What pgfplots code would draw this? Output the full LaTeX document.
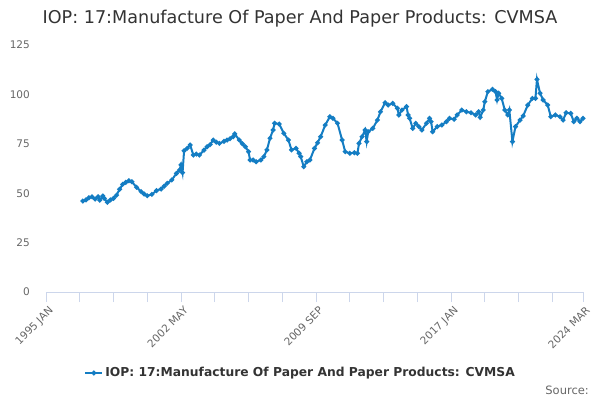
\documentclass[border=0pt]{standalone}
\usepackage{pgfplots}
\pgfplotsset{compat=1.18}
\usepackage{fontspec}
\setmainfont{DejaVu Sans}
\definecolor{series}{RGB}{20,125,195}
\definecolor{gridc}{RGB}{230,230,230}
\definecolor{axisc}{RGB}{204,214,235}
\definecolor{labc}{RGB}{102,102,102}
\definecolor{titc}{RGB}{51,51,51}
\begin{document}
\begin{tikzpicture}[x=1pt,y=1pt]
\path[use as bounding box] (0,0) rectangle (600,400);
\begin{axis}[
  at={(46pt,108pt)}, anchor=south west,
  scale only axis, width=537pt, height=247pt,
  xmin=0, xmax=350, ymin=0, ymax=125,
  axis y line=none,
  axis x line*=bottom,
  x axis line style={axisc, line width=0.8pt, -},
  ytick={0,25,50,75,100,125},
  ymajorgrids, grid style={gridc, line width=0.8pt},
  xtick={0,88,176,264,350},
  xticklabels={1995 JAN,2002 MAY,2009 SEP,2017 JAN,2024 MAR},
  minor xtick={22,44,66,110,132,154,198,220,242,286,308,330},
  xtick style={axisc, line width=0.8pt},
  major tick length=10pt, minor tick length=10pt,
  tick align=outside,
  xticklabel style={rotate=45, anchor=north east, font=\fontsize{10.5}{12}\selectfont, text=labc, inner sep=1pt, yshift=-3pt},
  /pgf/number format/assume math mode=true,
  clip=false,
  legend style={at={(0.474,-0.328)}, anchor=center, draw=none, fill=none, font=\bfseries\fontsize{12.3}{14}\selectfont, text=titc},
  legend cell align=left,
  legend image post style={mark size=1.4pt},
]
\addplot[series, line width=2pt, mark=*, mark size=1.3pt, mark options={fill=series, draw=series}] coordinates {
(24,46.0)(26,46.6)(28,47.7)(30,48.2)(32,47.0)(34,48.2)(35,46.5)(37,48.6)(38,47.4)(40,45.4)(42,46.6)(44,47.4)(46,49.0)
(48,52.0)(50,54.5)(52,55.5)(54,56.3)(56,55.8)(59,53.0)(62,50.8)(64,49.6)(66,48.7)(69,49.4)(72,51.3)(75,52.1)(77,53.5)
(79,55.0)(82,56.7)(85,60.0)(87,61.7)(88,64.3)(89,60.4)(90,71.5)(92,72.7)(94,74.4)(96,69.3)(98,69.8)(100,69.3)(103,71.8)(105,73.5)
(107,74.6)(109,76.9)(111,75.8)(113,75.2)(116,76.2)(118,76.9)(120,77.6)(122,78.6)(123,80.0)(126,76.9)(128,75.0)(130,73.5)(132,71.0)
(133,66.8)(135,66.8)(137,65.9)(140,66.8)(142,68.5)(144,71.9)(146,77.8)(148,82.0)(149,85.4)(152,85.0)(155,80.3)(158,76.9)(160,71.9)
(163,72.7)(165,70.2)(166,68.5)(168,63.4)(170,65.9)(172,66.8)(175,72.7)(177,75.5)(179,78.6)(182,84.5)(185,88.7)(187,87.9)(190,85.4)
(193,76.9)(195,71.0)(198,70.2)(201,70.5)(203,70.2)(204,75.2)(206,78.6)(208,82.0)(209,76.1)(210,81.1)(213,82.8)(216,87.0)(218,91.2)
(221,95.8)(223,94.6)(226,95.5)(229,93.0)(230,89.6)(232,92.1)(235,93.8)(236,89.6)(237,87.9)(239,82.8)(241,85.4)(243,83.7)(245,82.0)
(248,85.4)(250,87.9)(251,86.2)(252,81.1)(255,83.7)(258,84.5)(261,86.2)(263,87.9)(266,87.4)(268,89.6)(271,92.1)(274,91.2)(277,90.7)
(280,89.6)(282,91.2)(283,88.4)(285,92.1)(286,96.3)(288,101.4)(291,102.6)(293,101.4)(294,97.2)(295,100.6)(297,98.0)(299,92.1)
(301,89.6)(302,92.1)(304,76.1)(306,83.7)(309,87.0)(311,89.1)(314,94.6)(317,98.0)(319,98.0)(320,107.6)(322,100.6)(324,97.2)
(327,94.6)(329,88.7)(332,89.6)(335,88.7)(337,87.0)(339,90.7)(342,90.4)(344,86.2)(346,87.9)(348,86.2)(350,87.9)
};
\addlegendentry{IOP: 17:Manufacture Of Paper And Paper Products: CVMSA}
\end{axis}
\foreach \v/\yy in {0/292,25/242.6,50/193.2,75/143.8,100/94.4,125/45} {
  \node[anchor=east, text=labc, font=\fontsize{10.5}{12}\selectfont, inner sep=0pt] at (30,400-\yy) {\v};
}
\node[text=titc, font=\fontsize{17.6}{20}\selectfont] at (300,381) {IOP: 17:Manufacture Of Paper And Paper Products: CVMSA};
\node[anchor=east, text=labc, font=\fontsize{11.5}{13}\selectfont, inner sep=0pt] at (589,10) {Source:};
\end{tikzpicture}
\end{document}
